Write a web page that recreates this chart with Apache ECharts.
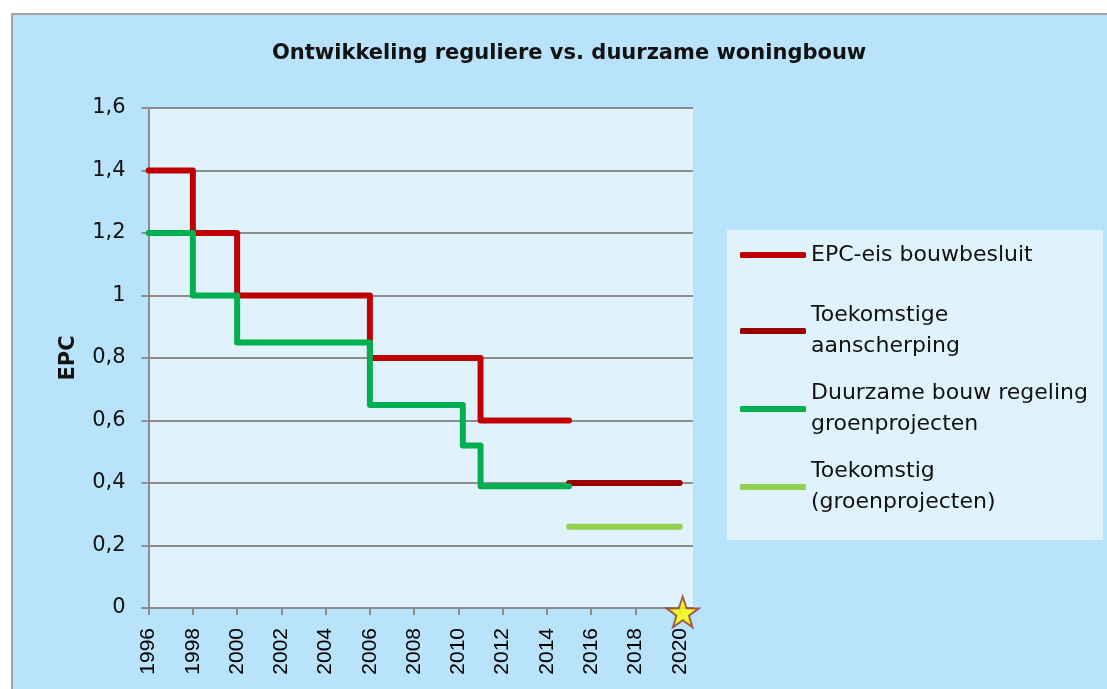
<!DOCTYPE html>
<html>
<head>
<meta charset="utf-8">
<script src="https://cdn.jsdelivr.net/npm/echarts@6/dist/echarts.min.js"></script>
<style>
html,body{margin:0;padding:0;background:#fff;}
#chart{width:1107px;height:689px;}
</style>
</head>
<body>
<div id="chart"></div>
<script>
// ---- data ----
const xTicks = [1996,1998,2000,2002,2004,2006,2008,2010,2012,2014,2016,2018,2020];
const yTicks = [0,0.2,0.4,0.6,0.8,1,1.2,1.4,1.6];

const epcYears = [1996,1998,2000,2006,2011,2015];
const epcValues = [1.4,1.2,1.0,0.8,0.6,0.6];

const futureEpcYears = [2015,2020];
const futureEpcValues = [0.4,0.4];

const greenYears = [1996,1998,2000,2006,2010.2,2011,2015];
const greenValues = [1.2,1.0,0.85,0.65,0.52,0.39,0.39];

const futureGreenYears = [2015,2020];
const futureGreenValues = [0.26,0.26];

const targetYear = [2020];
const targetValue = [0];

const seriesNames = [
  'EPC-eis bouwbesluit',
  'Toekomstige\naanscherping',
  'Duurzame bouw regeling\ngroenprojecten',
  'Toekomstig\n(groenprojecten)'
];

const zip = (xs, ys) => xs.map((x, i) => [x, ys[i]]);

const chart = echarts.init(document.getElementById('chart'));

const legendText = {fontFamily:'DejaVu Sans', fontSize:22, color:'#111', lineHeight:31};
function legendFor(idx, top, twoLines){
  return {
    show:true, orient:'vertical', left:740, top:top, padding:0,
    itemWidth:66, itemHeight:6, icon:'roundRect', selectedMode:false,
    data:[seriesNames[idx]],
    textStyle: Object.assign({}, legendText, twoLines ? {padding:[31,0,0,0]} : {})
  };
}

const lineBase = {type:'line', step:'end', symbol:'none', animation:false,
  lineStyle:{width:6, cap:'round', join:'round'}};

chart.setOption({
  animation:false,
  backgroundColor:'#ffffff',
  graphic:[
    {type:'rect', z:-10, shape:{x:12, y:14, width:1200, height:800},
     style:{fill:'#b9e3fb', stroke:'#a3a3a3', lineWidth:2}},
    {type:'rect', z:-5, shape:{x:727, y:230, width:376, height:310},
     style:{fill:'#e0f3fd'}}
  ],
  title:{
    text:'Ontwikkeling reguliere vs. duurzame woningbouw',
    left:272, top:43, padding:0,
    textStyle:{fontFamily:'DejaVu Sans', fontWeight:'bold', fontSize:21, color:'#111'}
  },
  legend:[
    legendFor(0, 239.5, false),
    legendFor(1, 284.5, true),
    legendFor(2, 362.5, true),
    legendFor(3, 440.5, true)
  ],
  grid:{left:148.6, right:414, top:108, bottom:81, show:true,
        backgroundColor:'#e0f3fd', borderWidth:0},
  xAxis:{
    type:'value', min:1996, max:2020.6, interval:2,
    axisLine:{show:true, onZero:false, lineStyle:{color:'#8c8c8c', width:2}},
    axisTick:{show:true, length:7, customValues:xTicks, lineStyle:{color:'#8c8c8c', width:2}},
    axisLabel:{customValues:xTicks, rotate:90, margin:20,
      fontFamily:'Liberation Sans', fontSize:21, color:'#000',
      formatter:v => String(v)},
    splitLine:{show:false}
  },
  yAxis:{
    type:'value', min:0, max:1.6, interval:0.2,
    name:'EPC', nameLocation:'middle', nameGap:70, nameRotate:90,
    nameTextStyle:{fontFamily:'DejaVu Sans', fontWeight:'bold', fontSize:21, color:'#111'},
    axisLine:{show:true, lineStyle:{color:'#8c8c8c', width:2}},
    axisTick:{show:true, length:7, lineStyle:{color:'#8c8c8c', width:2}},
    axisLabel:{margin:23, fontFamily:'DejaVu Sans', fontSize:21, color:'#111',
      formatter:v => String(Math.round(v*10)/10).replace('.', ',')},
    splitLine:{show:true, lineStyle:{color:'#8c8c8c', width:2}}
  },
  series:[
    Object.assign({}, lineBase, {name:seriesNames[0], color:'#c00000',
      data:zip(epcYears, epcValues), z:2}),
    Object.assign({}, lineBase, {name:seriesNames[1], color:'#990000',
      data:zip(futureEpcYears, futureEpcValues), z:2}),
    Object.assign({}, lineBase, {name:seriesNames[2], color:'#00b050',
      data:zip(greenYears, greenValues), z:3}),
    Object.assign({}, lineBase, {name:seriesNames[3], color:'#92d050',
      data:zip(futureGreenYears, futureGreenValues), z:3}),
    {type:'scatter', name:'doel', animation:false, z:5,
     data:zip(targetYear, targetValue),
     symbol:'path://M50,0 L61.8,35.1 L98.5,35.4 L69,57.3 L79.4,92.7 L50,71.5 L20.6,92.7 L31,57.3 L1.5,35.4 L38.2,35.1 Z',
     symbolSize:32, symbolOffset:[3,4], symbolKeepAspect:true,
     itemStyle:{color:'#ffff00', borderColor:'#953735', borderWidth:2},
     clip:false}
  ]
});
</script>
</body>
</html>
